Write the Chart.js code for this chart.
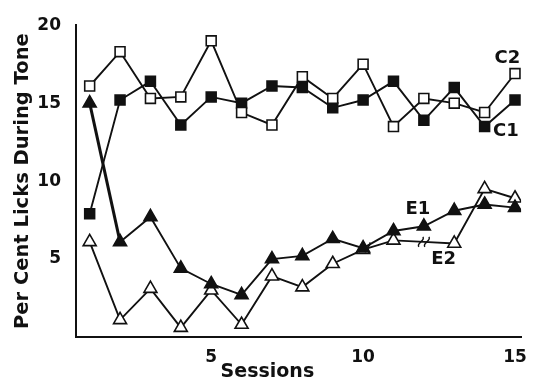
<!DOCTYPE html>
<html>
<head>
<meta charset="utf-8">
<script src="https://cdn.jsdelivr.net/npm/chart.js@4"></script>
<style>
  html, body { margin: 0; padding: 0; background: #fff; }
</style>
</head>
<body>
<canvas id="licks" width="537" height="377"></canvas>
<script>
const sessions = [1, 2, 3, 4, 5, 6, 7, 8, 9, 10, 11, 12, 13, 14, 15];
const c2 = [16.1, 18.3, 15.3, 15.4, 19.0, 14.4, 13.6, 16.7, 15.3, 17.5, 13.5, 15.3, 15.0, 14.4, 16.9];
const c1 = [7.9, 15.2, 16.4, 13.6, 15.4, 15.0, 16.1, 16.0, 14.7, 15.2, 16.4, 13.9, 16.0, 13.5, 15.2];
const e1 = [15.0, 6.1, 7.7, 4.4, 3.4, 2.7, 5.0, 5.2, 6.3, 5.7, 6.8, 7.1, 8.1, 8.5, 8.3];
const e2 = [6.1, 1.1, 3.1, 0.6, 3.0, 0.8, 3.9, 3.2, 4.7, 5.6, 6.2, 6.1, 6.0, 9.5, 8.9];
const yTicks = [5, 10, 15, 20];
const xTicks = [5, 10, 15];
// series name tags, in data units
const tags = [
  {text: 'C2', x: 14.75, y: 17.9},
  {text: 'C1', x: 14.7, y: 13.2},
  {text: 'E1', x: 11.8, y: 8.2},
  {text: 'E2', x: 12.65, y: 5.0}
];
// little break squiggles on the E lines
const breaks = [
  {x: 10.05, y: 5.75},
  {x: 12.0, y: 6.1}
];
const xTitle = {text: 'Sessions', x: 6.85};

const ink = '#111';
const font = '"DejaVu Sans", Arial, sans-serif';

const pts = (arr) => arr.map((v, i) => ({x: sessions[i], y: v}));

const extrasPlugin = {
  id: 'extras',
  afterDatasetsDraw(chart) {
    const {ctx, scales} = chart;
    ctx.save();
    ctx.fillStyle = ink;
    ctx.strokeStyle = ink;
    ctx.font = 'bold 18px ' + font;
    ctx.textAlign = 'center';
    ctx.textBaseline = 'middle';
    tags.forEach(t => {
      ctx.fillText(t.text, scales.x.getPixelForValue(t.x), scales.y.getPixelForValue(t.y));
    });
    // break marks
    ctx.lineWidth = 1.4;
    breaks.forEach(b => {
      const px = scales.x.getPixelForValue(b.x);
      const py = scales.y.getPixelForValue(b.y);
      [-3, 3].forEach(dx => {
        ctx.beginPath();
        ctx.moveTo(px + dx - 2, py + 5);
        ctx.bezierCurveTo(px + dx - 5, py + 1, px + dx + 5, py - 1, px + dx + 2, py - 5);
        ctx.stroke();
      });
    });
    // x title, slightly left of centre like the original
    ctx.font = 'bold 19px ' + font;
    ctx.fillText(xTitle.text, scales.x.getPixelForValue(xTitle.x), 372);
    ctx.restore();
  }
};

const line = (data, fill, style, radius) => ({
  data: pts(data),
  borderColor: ink,
  borderWidth: 1.9,
  pointStyle: style,
  pointRadius: radius,
  pointBackgroundColor: fill,
  pointBorderColor: ink,
  pointBorderWidth: 1.6,
  tension: 0
});

const e1Line = line(e1, ink, 'triangle', 7.5);
// first drop of E1 is drawn heavier in the original
e1Line.segment = {borderWidth: (ctx) => ctx.p0DataIndex === 0 ? 3 : 1.9};

const config = {
  type: 'line',
  data: {
    datasets: [
      line(c2, '#fff', 'rect', 7),
      line(c1, ink, 'rect', 7),
      e1Line,
      // no marker at session 12 for E2 (break in the line)
      line(e2, '#fff', 'triangle', e2.map((v, i) => i === 11 ? 0 : 7.5))
    ]
  },
  options: {
    responsive: false,
    animation: false,
    layout: {padding: {top: 22, right: 12, left: 0, bottom: 0}},
    plugins: {legend: false, tooltip: {enabled: false}},
    scales: {
      x: {
        type: 'linear',
        min: 0.55,
        max: 15.2,
        afterBuildTicks(s) { s.ticks = xTicks.map(v => ({value: v})); },
        afterFit(s) { s.height = 40; },
        grid: {display: false, drawTicks: false},
        border: {display: true, color: ink, width: 2},
        ticks: {color: ink, padding: 10, font: {family: font, size: 17, weight: 'bold'}}
      },
      y: {
        type: 'linear',
        min: 0,
        max: 20,
        afterBuildTicks(s) { s.ticks = yTicks.map(v => ({value: v})); },
        afterFit(s) { s.width = 76; },
        grid: {display: false, drawTicks: false},
        border: {display: true, color: ink, width: 2},
        ticks: {color: ink, padding: 15, font: {family: font, size: 17, weight: 'bold'}},
        title: {display: true, text: 'Per Cent Licks During Tone', color: ink, padding: {top: 11},
          font: {family: font, size: 19.5, weight: 'bold'}}
      }
    }
  },
  plugins: [extrasPlugin]
};

const licksChart = new Chart(document.getElementById('licks'), config);
</script>
</body>
</html>
